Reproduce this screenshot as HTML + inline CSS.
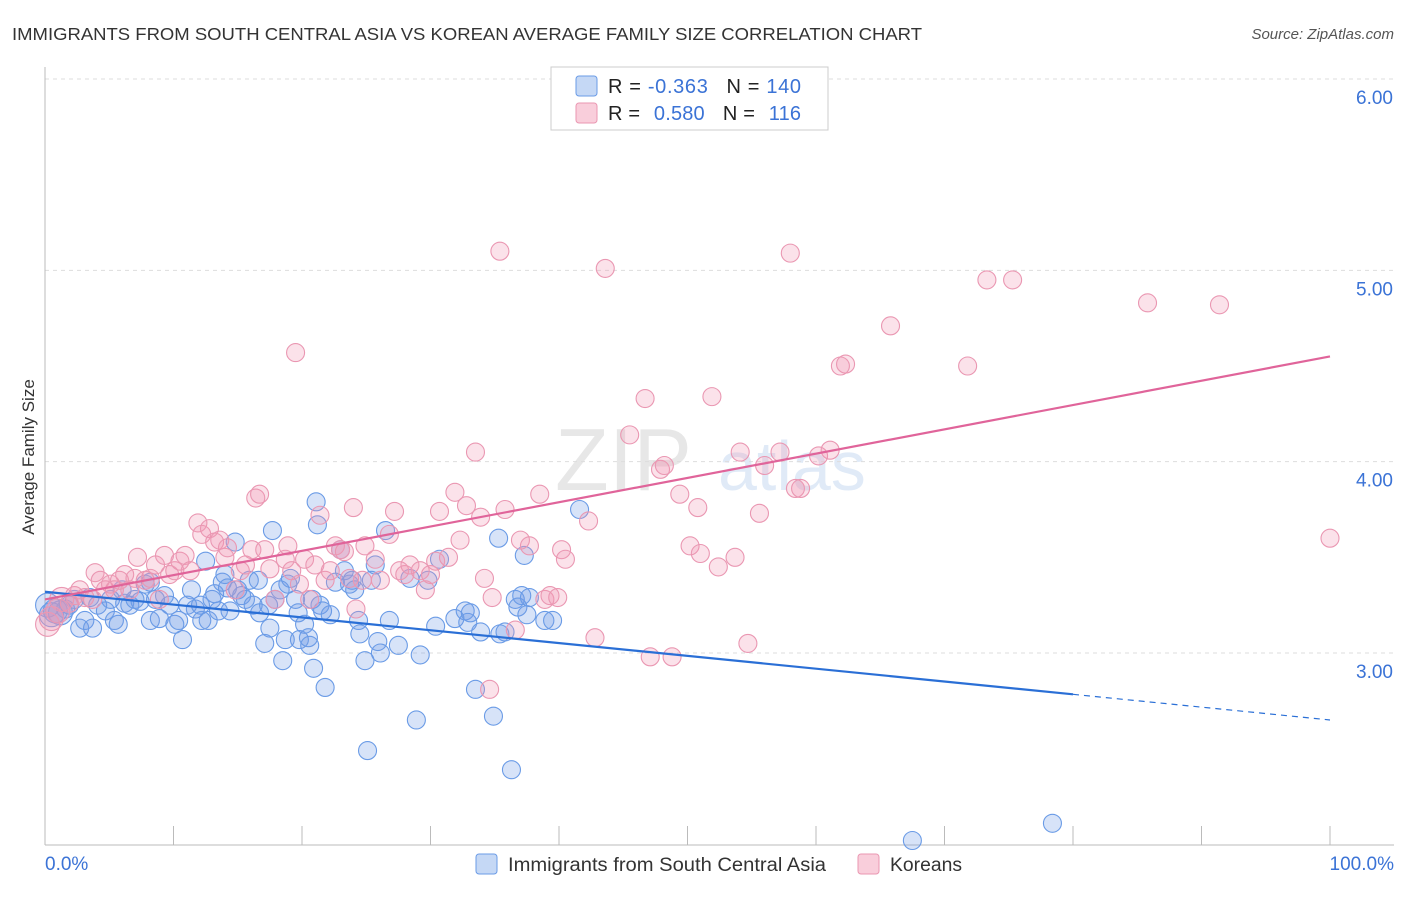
<!DOCTYPE html>
<html><head><meta charset="utf-8">
<style>
body{margin:0;background:#fff;font-family:"Liberation Sans",sans-serif;}
svg text{font-family:"Liberation Sans",sans-serif;}
</style></head>
<body>
<svg id="chart" width="1406" height="892" xmlns="http://www.w3.org/2000/svg">
<text x="12" y="40" font-size="17.5" fill="#333" textLength="910" lengthAdjust="spacingAndGlyphs">IMMIGRANTS FROM SOUTH CENTRAL ASIA VS KOREAN AVERAGE FAMILY SIZE CORRELATION CHART</text>
<text x="1394" y="39" font-size="15" fill="#555" font-style="italic" text-anchor="end">Source: ZipAtlas.com</text>
<text x="34" y="457" font-size="17" fill="#333" text-anchor="middle" transform="rotate(-90 34 457)">Average Family Size</text>
<g opacity="0.35">
<text x="555" y="490" font-size="88" fill="#bbb" font-family="Liberation Serif">ZIP</text>
<text x="718" y="490" font-size="70" fill="#a9c6ea">atlas</text>
</g>
<g id="grid"></g>
<g id="axes"></g>
<g id="pts"></g>
<g id="trends"></g>
<g>
<rect x="551" y="67" width="277" height="63" fill="#fff" stroke="#ccc"/>
<rect x="576" y="76" width="21" height="20" fill="#c5d8f5" stroke="#6a9be6" rx="3"/>
<rect x="576" y="103" width="21" height="20" fill="#f9cedb" stroke="#ea97b2" rx="3"/>
<text x="608" y="93" font-size="20" fill="#222" textLength="193" lengthAdjust="spacing">R = <tspan fill="#3b73d6">-0.363</tspan><tspan dx="18">N = </tspan><tspan fill="#3b73d6">140</tspan></text>
<text x="608" y="120" font-size="20" fill="#222" textLength="193" lengthAdjust="spacing">R = <tspan fill="#3b73d6" dx="8">0.580</tspan><tspan dx="18">N = </tspan><tspan fill="#3b73d6" dx="8">116</tspan></text>
</g>
<g>
<rect x="476" y="854" width="21" height="20" fill="#c5d8f5" stroke="#6a9be6" rx="3"/>
<text x="508" y="871" font-size="19" fill="#333" textLength="318" lengthAdjust="spacingAndGlyphs">Immigrants from South Central Asia</text>
<rect x="858" y="854" width="21" height="20" fill="#f9cedb" stroke="#ea97b2" rx="3"/>
<text x="890" y="871" font-size="19" fill="#333" textLength="72" lengthAdjust="spacingAndGlyphs">Koreans</text>
</g>
</svg>
<script>
const yTicks=[3,4,5,6];
const yTickLabels=["3.00","4.00","5.00","6.00"];
const xTickLabels=["0.0%","100.0%"];
const blueX=[0.2,0.5,0.8,1.2,1.6,1.9,2.3,2.7,3.1,3.5,3.7,4.1,4.7,5.1,5.4,5.7,6.0,6.2,6.6,7.0,7.4,7.8,8.2,8.2,8.6,8.9,9.3,9.7,10.1,10.4,10.7,11.1,11.4,11.7,12.1,12.2,12.5,12.7,13.0,13.2,13.5,13.8,14.0,14.2,14.4,14.8,15.0,15.3,15.6,15.9,16.2,16.6,16.7,17.1,17.4,17.5,17.7,17.9,18.3,18.5,18.7,18.9,19.1,19.5,19.7,19.8,20.2,20.5,20.6,20.8,20.9,21.1,21.2,21.4,21.6,21.8,22.2,22.6,23.0,23.3,23.7,23.9,24.1,24.4,24.5,24.9,25.1,25.4,25.7,25.9,26.1,26.5,26.8,27.5,28.4,28.9,29.2,29.8,30.4,30.7,31.9,32.7,32.9,33.1,33.5,33.9,34.9,35.3,35.4,35.8,36.3,36.6,36.8,37.1,37.3,37.5,37.7,38.9,39.5,41.6,67.5,78.4];
const blueY=[3.25,3.20,3.22,3.21,3.23,3.25,3.28,3.13,3.17,3.29,3.13,3.25,3.22,3.28,3.17,3.15,3.33,3.26,3.25,3.28,3.27,3.36,3.37,3.17,3.28,3.18,3.30,3.25,3.15,3.17,3.07,3.25,3.33,3.23,3.25,3.17,3.48,3.17,3.28,3.31,3.22,3.37,3.41,3.34,3.22,3.58,3.33,3.30,3.28,3.38,3.25,3.38,3.21,3.05,3.25,3.13,3.64,3.28,3.33,2.96,3.07,3.36,3.39,3.28,3.21,3.07,3.15,3.08,3.04,3.28,2.92,3.79,3.67,3.25,3.22,2.82,3.20,3.37,3.54,3.43,3.36,3.38,3.33,3.17,3.10,2.96,2.49,3.38,3.46,3.06,3.00,3.64,3.17,3.04,3.39,2.65,2.99,3.38,3.14,3.49,3.18,3.22,3.16,3.21,2.81,3.11,2.67,3.60,3.10,3.11,2.39,3.28,3.24,3.30,3.51,3.20,3.29,3.17,3.17,3.75,2.02,2.11];
const pinkX=[0.2,0.5,1.0,1.3,1.9,2.3,2.7,3.1,3.7,3.9,4.3,4.7,5.1,5.4,5.8,6.2,6.6,7.0,7.2,7.8,8.2,8.6,8.9,9.3,9.7,10.1,10.5,10.9,11.3,11.9,12.2,12.8,13.2,13.6,14.0,14.2,14.8,15.2,15.6,16.1,16.4,16.7,17.1,17.5,17.9,18.7,18.9,19.2,19.5,19.8,20.2,20.6,21.0,21.4,21.8,22.2,22.6,23.0,23.3,23.7,24.0,24.2,24.7,24.9,25.7,26.1,26.8,27.2,27.6,28.0,28.4,29.2,29.6,30.0,30.4,30.7,31.4,31.9,32.3,32.8,33.5,33.9,34.2,34.6,34.8,35.4,35.8,36.6,37.0,37.7,38.5,38.9,39.3,39.9,40.2,40.5,42.3,42.8,43.6,45.5,46.7,47.1,47.9,48.2,48.8,49.4,50.2,50.8,51.0,51.9,52.4,53.7,54.1,54.7,55.6,56.0,57.2,58.0,58.4,58.8,60.2,61.1,61.9,62.3,65.8,71.8,73.3,75.3,85.8,91.4,100.0];
const pinkY=[3.15,3.18,3.22,3.28,3.26,3.30,3.33,3.29,3.28,3.42,3.38,3.33,3.36,3.33,3.38,3.41,3.33,3.39,3.50,3.38,3.39,3.46,3.28,3.51,3.41,3.43,3.48,3.51,3.43,3.68,3.62,3.65,3.58,3.59,3.50,3.55,3.33,3.43,3.46,3.54,3.81,3.83,3.54,3.44,3.28,3.49,3.56,3.43,4.57,3.36,3.49,3.28,3.46,3.72,3.38,3.43,3.56,3.54,3.53,3.39,3.76,3.23,3.38,3.56,3.49,3.38,3.62,3.74,3.43,3.41,3.46,3.43,3.33,3.41,3.48,3.74,3.50,3.84,3.59,3.77,4.05,3.71,3.39,2.81,3.29,5.10,3.75,3.12,3.59,3.56,3.83,3.28,3.30,3.29,3.54,3.49,3.69,3.08,5.01,4.14,4.33,2.98,3.96,3.98,2.98,3.83,3.56,3.76,3.52,4.34,3.45,3.50,4.05,3.05,3.73,3.98,4.05,5.09,3.86,3.86,4.03,4.06,4.50,4.51,4.71,4.50,4.95,4.95,4.83,4.82,3.60];
const blueTrend=[3.32,2.65];
const pinkTrend=[3.28,4.55];
const blueSolidEnd=80;

const NS="http://www.w3.org/2000/svg";
const X0=45,X1=1330,YT=79,YB=653;
function xs(v){return X0+(X1-X0)*v/100;}
function ys(v){return YB-(v-3)*(YB-YT)/3;}
function mk(tag,attrs,parent){const e=document.createElementNS(NS,tag);for(const k in attrs)e.setAttribute(k,attrs[k]);parent.appendChild(e);return e;}
const grid=document.getElementById('grid'),axes=document.getElementById('axes');
yTicks.forEach((t,i)=>{
  const l=mk('line',{x1:X0,x2:1394,y1:ys(t),y2:ys(t),stroke:'#ddd','stroke-dasharray':'4,4'},grid);
  
  
  const tx=mk('text',{x:1393,y:ys(t)+25,'font-size':19,fill:'#3b73d6','text-anchor':'end'},axes);
  tx.textContent=yTickLabels[i];
  
  
});
const ax=mk('line',{x1:X0,x2:X0,y1:67,y2:845,stroke:'#bbb'},axes);


const bx=mk('line',{x1:X0,x2:1394,y1:845,y2:845,stroke:'#bbb'},axes);


for(let i=0;i<=10;i++){
  const t=mk('line',{x1:xs(i*10),x2:xs(i*10),y1:826,y2:845,stroke:'#bbb'},axes);
  
  
}
const xl0=mk('text',{x:45,y:870,'font-size':19,fill:'#3b73d6'},axes);xl0.textContent=xTickLabels[0];


const xl1=mk('text',{x:1394,y:870,'font-size':19,fill:'#3b73d6','text-anchor':'end'},axes);xl1.textContent=xTickLabels[1];


const pts=document.getElementById('pts');
function dots(X,Y,fill,stroke,name){
  X.forEach((x,i)=>{
    const r=(x<1.5)?12:9;
    const c=mk('circle',{cx:xs(x),cy:ys(Y[i]),r:r,fill:fill,stroke:stroke,'stroke-width':1.1},pts);
    
    
  });
}
dots(blueX,blueY,'rgba(110,155,230,0.28)','#6a9be6','blue-point');
dots(pinkX,pinkY,'rgba(240,150,180,0.28)','#ea97b2','pink-point');
const tr=document.getElementById('trends');
function lin(a,x){return a[0]+(a[1]-a[0])*x/100;}
const b1=mk('line',{x1:xs(0),y1:ys(lin(blueTrend,0)),x2:xs(blueSolidEnd),y2:ys(lin(blueTrend,blueSolidEnd)),stroke:'#2a6fd6','stroke-width':2.2},tr);


const b2=mk('line',{x1:xs(blueSolidEnd),y1:ys(lin(blueTrend,blueSolidEnd)),x2:xs(100),y2:ys(lin(blueTrend,100)),stroke:'#2a6fd6','stroke-width':1.2,'stroke-dasharray':'6,5'},tr);


const p1=mk('line',{x1:xs(0),y1:ys(lin(pinkTrend,0)),x2:xs(100),y2:ys(lin(pinkTrend,100)),stroke:'#e0649a','stroke-width':2.2},tr);


</script>
</body></html>
